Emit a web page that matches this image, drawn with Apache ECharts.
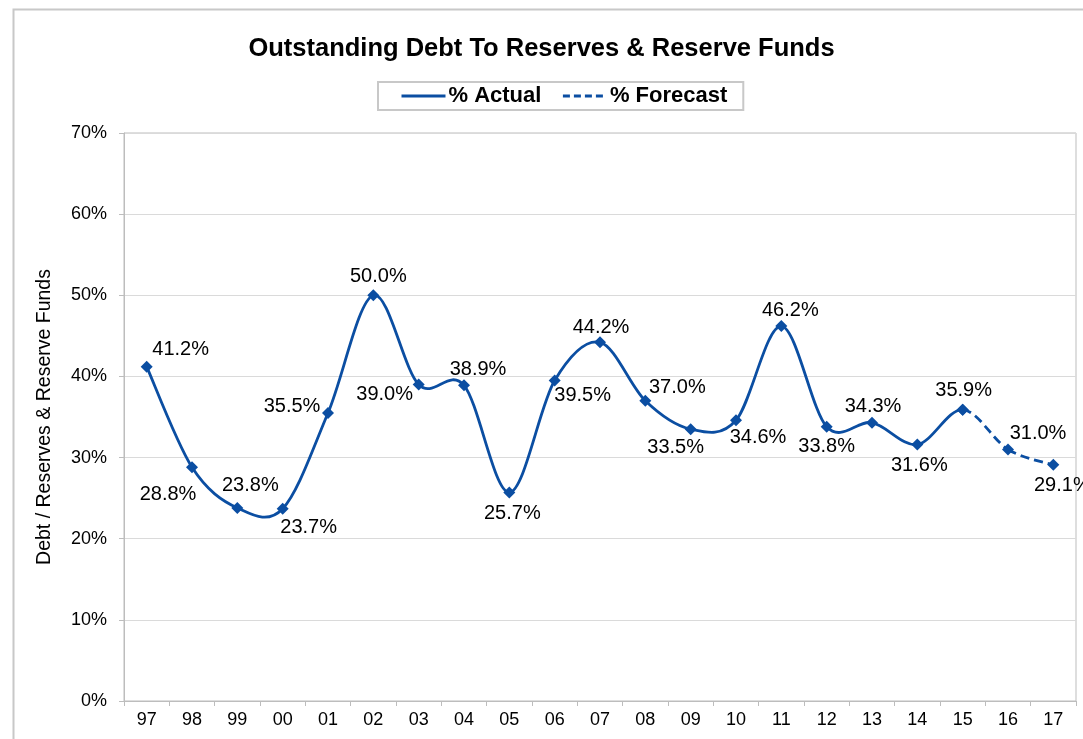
<!DOCTYPE html>
<html>
<head>
<meta charset="utf-8">
<script src="https://cdn.jsdelivr.net/npm/echarts@6/dist/echarts.min.js"></script>
<style>
html,body{margin:0;padding:0;background:#fff;overflow:hidden;}
#chart{width:1083px;height:739px;}
</style>
</head>
<body>
<div id="chart"></div>
<script>
// ---- data ----
const categories = ['97','98','99','00','01','02','03','04','05','06','07','08','09','10','11','12','13','14','15','16','17'];
const actualValues = [41.2, 28.8, 23.8, 23.7, 35.5, 50.0, 39.0, 38.9, 25.7, 39.5, 44.2, 37.0, 33.5, 34.6, 46.2, 33.8, 34.3, 31.6, 35.9, null, null];
const forecastValues = [null, null, null, null, null, null, null, null, null, null, null, null, null, null, null, null, null, null, 35.9, 31.0, 29.1];
const yTicks = [0, 10, 20, 30, 40, 50, 60, 70];
const titleText = 'Outstanding Debt To Reserves & Reserve Funds';
const seriesNames = ['% Actual', '% Forecast'];
const yAxisName = 'Debt / Reserves & Reserve Funds';

// ---- label placement (styling) ----
const labelOffsets = [
  [34,-17],[-24,27],[13,-22],[26,19],[-36,-6],[5,-19],[-34,10],[14,-16],[3,21],[28,15],
  [1,-15],[32,-13],[-15,18],[22,17],[9,-16],[0,20],[1,-16],[2,21],[1,-19],[30,-16],[9,21]
];
const lineColor = '#0B4EA2';
const dashPattern = [9, 5];
const FONT = 'Liberation Sans, Arial, sans-serif';

// combined series for drawing the smoothed (Excel-like Catmull-Rom) curve
const fullValues = actualValues.map((v, i) => v != null ? v : forecastValues[i]);
const firstForecast = forecastValues.findIndex(v => v != null);
const segmentData = fullValues.slice(0, fullValues.length - 1).map((v, i) => [i, v]);

function buildData(vals, showFrom, showTo) {
  return vals.map((v, i) => {
    if (v == null) return null;
    const show = i >= showFrom && i <= showTo;
    return {
      value: v,
      label: { show: show, position: 'inside', offset: labelOffsets[i] }
    };
  });
}

function renderSegment(params, api) {
  const n = fullValues.length;
  const i = params.dataIndex;
  if (i >= n - 1) return null;
  const P = k => {
    const kk = Math.max(0, Math.min(n - 1, k));
    return api.coord([kk, fullValues[kk]]);
  };
  const p0 = P(i - 1), p1 = P(i), p2 = P(i + 1), p3 = P(i + 2);
  const t = 1 / 6;
  const cp1 = [p1[0] + (p2[0] - p0[0]) * t, p1[1] + (p2[1] - p0[1]) * t];
  const cp2 = [p2[0] - (p3[0] - p1[0]) * t, p2[1] - (p3[1] - p1[1]) * t];
  const dashed = i >= firstForecast;
  return {
    type: 'bezierCurve',
    shape: { x1: p1[0], y1: p1[1], x2: p2[0], y2: p2[1], cpx1: cp1[0], cpy1: cp1[1], cpx2: cp2[0], cpy2: cp2[1] },
    style: { stroke: lineColor, lineWidth: 2.8, fill: null, lineDash: dashed ? dashPattern : null, lineCap: 'butt' },
    silent: true
  };
}

const chart = echarts.init(document.getElementById('chart'));
const labelStyle = {
  formatter: p => p.value.toFixed(1) + '%',
  fontFamily: FONT,
  fontSize: 20,
  color: '#000'
};

chart.setOption({
  animation: false,
  backgroundColor: '#fff',
  graphic: [{
    type: 'rect', left: 11, top: 7, z: -1,
    shape: { width: 1100, height: 760 },
    style: { fill: 'none', stroke: '#c8c8c8', lineWidth: 2 },
    silent: true
  }],
  title: {
    text: titleText,
    left: 'center',
    top: 31,
    textStyle: { fontFamily: FONT, fontWeight: 'bold', fontSize: 25.5, color: '#000' }
  },
  legend: {
    data: [
      { name: seriesNames[0], lineStyle: { color: lineColor, width: 3, opacity: 1, type: 'solid' }, itemStyle: { opacity: 0 } },
      { name: seriesNames[1], lineStyle: { color: lineColor, width: 3, opacity: 1, type: [7, 4] }, itemStyle: { opacity: 0 } }
    ],
    left: 378, top: 82,
    padding: [3, 16, 3, 22],
    itemWidth: 44, itemHeight: 14, itemGap: 20,
    borderColor: '#c8c8c8', borderWidth: 2,
    textStyle: { fontFamily: FONT, fontWeight: 'bold', fontSize: 22, color: '#000', padding: [0, 0, 0, -2] }
  },
  grid: { left: 124, right: 7, top: 133, bottom: 38, show: true, borderColor: '#bdbdbd', borderWidth: 1, containLabel: false },
  xAxis: {
    type: 'category',
    data: categories,
    boundaryGap: true,
    axisLine: { lineStyle: { color: '#bdbdbd', width: 1 } },
    axisTick: { show: true, length: 5, lineStyle: { color: '#bdbdbd' } },
    axisLabel: { margin: 10, fontFamily: FONT, fontSize: 18, color: '#000' }
  },
  yAxis: {
    type: 'value',
    min: yTicks[0], max: yTicks[yTicks.length - 1], interval: 10,
    name: yAxisName,
    nameLocation: 'middle',
    nameGap: 69,
    nameRotate: 90,
    nameTextStyle: { fontFamily: FONT, fontSize: 19.5, color: '#000' },
    axisLine: { show: true, lineStyle: { color: '#bdbdbd' } },
    axisTick: { show: true, length: 5, lineStyle: { color: '#bdbdbd' } },
    splitLine: { show: true, lineStyle: { color: '#dadada', width: 1 } },
    axisLabel: { margin: 17, formatter: v => v + '%', fontFamily: FONT, fontSize: 18, color: '#000' }
  },
  series: [
    {
      name: 'curve',
      type: 'custom',
      data: segmentData,
      encode: { x: 0, y: 1 },
      renderItem: renderSegment,
      clip: false,
      silent: true,
      z: 1
    },
    {
      name: seriesNames[0],
      type: 'line',
      data: buildData(actualValues, 0, 18),
      symbol: 'diamond',
      symbolSize: 12,
      itemStyle: { color: lineColor },
      lineStyle: { color: lineColor, width: 3, opacity: 0 },
      label: labelStyle,
      z: 3
    },
    {
      name: seriesNames[1],
      type: 'line',
      data: buildData(forecastValues, 19, 20),
      symbol: 'diamond',
      symbolSize: 12,
      itemStyle: { color: lineColor },
      lineStyle: { color: lineColor, width: 3, type: dashPattern, opacity: 0 },
      label: labelStyle,
      z: 2
    }
  ]
});
</script>
</body>
</html>
